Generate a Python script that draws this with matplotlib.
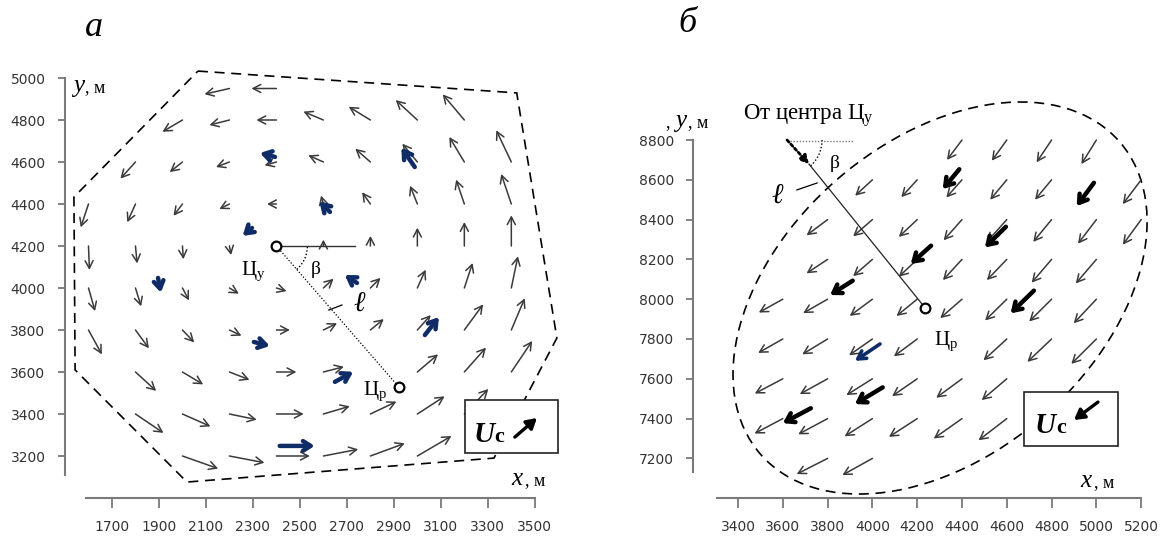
import math
import matplotlib
matplotlib.use('Agg')
import matplotlib.pyplot as plt
from matplotlib.patches import FancyArrowPatch, Rectangle, Ellipse, Arc, Polygon
from matplotlib.transforms import Affine2D

plt.rcParams['font.family'] = ['DejaVu Sans']
plt.rcParams['mathtext.fontset'] = 'custom'
plt.rcParams['mathtext.rm'] = 'Liberation Serif'
plt.rcParams['mathtext.it'] = 'Liberation Serif:italic'
plt.rcParams['mathtext.bf'] = 'Liberation Serif:bold'
SERIF = ['Liberation Serif', 'DejaVu Serif']

# ---------- panel a: modelled currents (tail x, tail y, u, v), m ----------
a_x = [2200, 2400,
       2000, 2200, 2400, 2600, 2800, 3000, 3200,
       1800, 2000, 2200, 2400, 2600, 2800, 3000, 3200, 3400,
       1600, 1800, 2000, 2200, 2400, 2600, 2800, 3000, 3200, 3400,
       1600, 1800, 2000, 2200, 2600, 2800, 3000, 3200, 3400,
       1600, 1800, 2000, 2200, 2400, 2600, 2800, 3000, 3200, 3400,
       1600, 1800, 2000, 2200, 2400, 2600, 2800, 3000, 3200, 3400,
       1800, 2000, 2200, 2400, 2600, 3000, 3200, 3400,
       1800, 2000, 2200, 2400, 2600, 2800, 3000, 3200,
       2000, 2200, 2400, 2600, 2800, 3000]
a_y = [4950] * 2 + [4800] * 7 + [4600] * 9 + [4400] * 10 + [4200] * 9 + \
      [4000] * 10 + [3800] * 10 + [3600] * 8 + [3400] * 8 + [3200] * 6
a_u = [-106, -106,
       -85, -85, -85, -85, -92, -92, -92,
       -64, -54, -57, -50, -64, -64, -64, -64, -64,
       -33, -35, -38, -43, -40, -10, -35, -31, -35, -43,
       4, 7, 4, 7, 0, 0, 0, 0, 0,
       28, 24, 28, 40, 43, 43, 43, 35, 35, 28,
       57, 57, 50, 51, 57, 58, 57, 57, 80, 57,
       88, 88, 85, 85, 87, 88, 92, 89,
       119, 119, 116, 116, 112, 111, 116, 102,
       152, 149, 142, 148, 146, 145]
a_v = [-27, 0,
       -56, -24, 0, 40, 63, 95, 122,
       -79, -48, -24, -16, 32, 63, 87, 119, 151,
       -111, -87, -56, -24, 0, 40, 56, 87, 116, 143,
       -114, -83, -63, -43, 30, 48, 87, 114, 146,
       -110, -87, -59, -27, -15, 44, 48, 87, 119, 151,
       -116, -87, -59, -27, 0, 32, 52, 71, 122, 151,
       -90, -59, -37, 0, 25, 84, 116, 148,
       -90, -59, -27, 0, 37, 59, 84, 119,
       -60, -32, 0, 32, 60, 95]

# panel a: measured currents
am_x = [2394, 2989, 2296, 2628, 1896, 2743, 2304, 3032, 2649, 2414]
am_y = [4624, 4576, 4286, 4362, 4048, 4024, 3743, 3776, 3553, 3248]
am_u = [-64, -57, -40, -45, 12, -52, 68, 60, 78, 149]
am_v = [19, 92, -38, 50, -70, 38, -19, 86, 48, 0]

# panel a: area boundary
a_bx = [2066, 3423, 3594, 3326, 2019, 1543, 1538]
a_by = [5033, 4929, 3762, 3190, 3076, 3610, 4433]

a_cy = (2400, 4200)   # centre Цу
a_cr = (2920, 3530)   # centre Цр
a_xticks = list(range(1700, 3501, 200))
a_yticks = list(range(3200, 5001, 200))

# ---------- panel б ----------
b_x = [4400, 4600, 4800, 5000,
       4000, 4200, 4400, 4600, 4800, 5200,
       3800, 4000, 4200, 4400, 4600, 4800, 5000, 5200,
       3800, 4000, 4200, 4400, 4600, 4800, 5000,
       3600, 3800, 4000, 4200, 4400, 4600, 4800, 5000,
       3600, 3800, 4000, 4200, 4600, 4800, 5000,
       3600, 3800, 4000, 4200, 4400, 4600,
       3600, 3800, 4000, 4200, 4400, 4600,
       3800, 4000]
b_y = [8800] * 4 + [8600] * 6 + [8400] * 8 + [8200] * 7 + [8000] * 8 + \
      [7800] * 7 + [7600] * 6 + [7400] * 6 + [7200] * 2
b_u = [-67, -67, -67, -67,
       -77, -71, -70, -74, -74, -82,
       -94, -86, -82, -82, -89, -82, -82, -82,
       -94, -86, -82, -85, -89, -89, -92,
       -107, -109, -101, -92, -97, -97, -100, -101,
       -110, -113, -104, -104, -104, -108, -112,
       -125, -124, -116, -112, -115, -112,
       -126, -131, -124, -126, -126, -126,
       -138, -134]
b_v = [-100, -104, -112, -121,
       -80, -87, -89, -100, -100, -122,
       -79, -84, -87, -104, -112, -112, -121, -126,
       -70, -84, -87, -104, -104, -117, -121,
       -67, -70, -84, -84, -95, -107, -112, -121,
       -70, -77, -82, -87, -107, -115, -125,
       -74, -77, -82, -87, -95, -107,
       -75, -79, -89, -92, -100, -109,
       -79, -84]

bm_x = [4388, 4989, 4596, 4262, 3912, 4721, 4046, 3725]
bm_y = [8653, 8585, 8364, 8269, 8093, 8043, 7557, 7452]
bm_u = [-74, -77, -94, -91, -101, -104, -124, -125]
bm_v = [-100, -117, -104, -92, -72, -114, -84, -75]
bb_x, bb_y, bb_u, bb_v = [4034], [7775], [-112], [-85]

b_cr = (4235, 7957)
b_start = (3619, 8800)
b_tip = (3717, 8679)
b_xticks = list(range(3400, 5201, 200))
b_yticks = list(range(7200, 8801, 200))

W, H = 11.66, 5.36
fig = plt.figure(figsize=(W, H), dpi=100)
ax1 = fig.add_axes([65 / 1166, 38 / 536, 498 / 1166, 432.6 / 536])
ax2 = fig.add_axes([693.2 / 1166, 37.8 / 536, 470.4 / 1166, 398 / 536])

GRAY = '#3a3a3a'
NAVY = '#0f2c66'


def setup(ax, xlim, ylim, xticks, yticks, xb, yb):
    ax.set_xlim(xlim)
    ax.set_ylim(ylim)
    ax.patch.set_visible(False)
    for s in ('top', 'right'):
        ax.spines[s].set_visible(False)
    for s in ('left', 'bottom'):
        ax.spines[s].set_color('#7a7a7a')
        ax.spines[s].set_linewidth(1.5)
    ax.spines['left'].set_bounds(*yb)
    ax.spines['bottom'].set_bounds(*xb)
    ax.set_xticks(xticks)
    ax.set_yticks(yticks)
    ax.tick_params(axis='y', length=5, width=1.3, color='#7a7a7a', pad=9,
                   labelsize=10, labelcolor='#333333')
    ax.tick_params(axis='x', length=7, width=1.3, color='#7a7a7a', pad=9,
                   labelsize=10, labelcolor='#333333')


def arrows(ax, xs, ys, us, vs, color, lw, hl, hw, style='->', z=3, ls='-'):
    for x, y, u, v in zip(xs, ys, us, vs):
        ax.add_patch(FancyArrowPatch(
            (x, y), (x + u, y + v),
            arrowstyle=f'{style},head_length={hl},head_width={hw}',
            color=color, lw=lw, ls=ls, shrinkA=0, shrinkB=0, mutation_scale=1,
            zorder=z, clip_on=False))


def px_scale(ax):
    pos = ax.get_position()
    x0, x1 = ax.get_xlim()
    y0, y1 = ax.get_ylim()
    return pos.width * W * 100 / (x1 - x0), pos.height * H * 100 / (y1 - y0)


# ===== panel a =====
setup(ax1, (1500, 3620), (3000, 5060), a_xticks, a_yticks, (1590, 3500), (3110, 5000))
sx, sy = px_scale(ax1)
tr1 = Affine2D().scale(1 / sx, 1 / sy) + ax1.transData

ax1.add_patch(Polygon(list(zip(a_bx, a_by)), closed=True, fill=False,
                      ec='black', lw=1.2, ls=(0, (6, 4)), zorder=2))
arrows(ax1, a_x, a_y, a_u, a_v, GRAY, 1.1, 5.5, 2.9)
arrows(ax1, am_x, am_y, am_u, am_v, NAVY, 3.2, 5.5, 3.5, z=4)

ax1.plot([a_cy[0], 2734], [a_cy[1], a_cy[1]], color='#333333', lw=1, zorder=3)
ax1.plot([a_cy[0], a_cr[0]], [a_cy[1], a_cr[1]], color='black', lw=0.9,
         ls=(0, (1, 1.5)), zorder=3)
ang = math.degrees(math.atan2((a_cr[1] - a_cy[1]) * sy, (a_cr[0] - a_cy[0]) * sx))
ax1.add_patch(Arc((a_cy[0] * sx, a_cy[1] * sy), 62, 62, theta1=ang, theta2=0,
                  transform=tr1, ls=(0, (1, 1.5)), lw=1, color='black'))
for c in (a_cy, a_cr):
    ax1.plot(*c, 'o', ms=7, mfc='white', mec='black', mew=1.6, zorder=6)
ax1.plot([2623, 2679], [3895, 3919], color='black', lw=0.9)

ax1.text(2300, 4081, 'Ц$_{\\mathrm{у}}$', family=SERIF, size=15, ha='center', va='center')
ax1.text(2819, 3510, 'Ц$_{\\mathrm{р}}$', family=SERIF, size=15, ha='center', va='center')
ax1.text(2568, 4090, 'β', family=SERIF, size=14, ha='center', va='center')
ax1.text(2751, 3924, 'ℓ', family=SERIF, style='italic', size=20, ha='center', va='center')

ax1.add_patch(Rectangle((3202, 3214), 396, 253, fc='white', ec='#222222', lw=1.2, zorder=7))
ax1.text(3283, 3267, 'U', family=SERIF, style='italic', weight='bold', size=21,
         ha='center', va='baseline', zorder=8)
ax1.text(3347, 3267, 'c', family=SERIF, weight='bold', size=16,
         ha='center', va='baseline', zorder=8)
arrows(ax1, [3415], [3290], [94], [91], 'black', 2.4, 6, 3.5, style='-|>', z=8)

ax1.text(1534, 4933, 'y', family=SERIF, style='italic', size=18, va='baseline')
ax1.text(1584, 4933, ', м', family=SERIF, size=13, va='baseline')
ax1.text(3402, 3062, 'x', family=SERIF, style='italic', size=18, va='baseline')
ax1.text(3458, 3062, ', м', family=SERIF, size=13, va='baseline')

# ===== panel б =====
setup(ax2, (3200, 5300), (7000, 9000), b_xticks, b_yticks, (3305, 5200), (7130, 8800))
sx2, sy2 = px_scale(ax2)
tr2 = Affine2D().scale(1 / sx2, 1 / sy2) + ax2.transData

ax2.add_patch(Ellipse((4302 * sx2, 8006 * sy2), 476, 314, angle=41, transform=tr2,
                      fill=False, ec='black', lw=1.2, ls=(0, (6, 4)), zorder=2))
arrows(ax2, b_x, b_y, b_u, b_v, GRAY, 1.1, 5.5, 2.9)
arrows(ax2, bm_x, bm_y, bm_u, bm_v, 'black', 3.2, 5.5, 3.6, z=4)
arrows(ax2, bb_x, bb_y, bb_u, bb_v, NAVY, 2.6, 5.5, 3.2, z=4)

ax2.plot([3632, 3913], [8795, 8795], color='#777777', lw=1, ls=(0, (1, 1.2)))
arrows(ax2, [b_start[0]], [b_start[1]], [b_tip[0] - b_start[0]], [b_tip[1] - b_start[1]],
       'black', 2.0, 5, 2.6, style='-|>', z=4, ls=(0, (1, 1)))
ax2.plot([b_tip[0], b_cr[0]], [b_tip[1], b_cr[1]], color='#222222', lw=0.9, zorder=3)
ang2 = math.degrees(math.atan2((b_tip[1] - b_start[1]) * sy2, (b_tip[0] - b_start[0]) * sx2))
ax2.add_patch(Arc((b_start[0] * sx2, b_start[1] * sy2), 70, 70, theta1=ang2, theta2=0,
                  transform=tr2, ls=(0, (1, 1.5)), lw=1, color='black'))
ax2.plot(*b_cr, 'o', ms=7, mfc='white', mec='black', mew=1.6, zorder=6)
ax2.plot([3663, 3753], [8549, 8584], color='black', lw=0.9)

ax2.text(4329, 7790, 'Ц$_{\\mathrm{р}}$', family=SERIF, size=15, ha='center', va='center')
ax2.text(3833, 8684, 'β', family=SERIF, size=14, ha='center', va='center')
ax2.text(3574, 8519, 'ℓ', family=SERIF, style='italic', size=20, ha='center', va='center')
ax2.text(3422, 8900, 'От центра Ц$_{\\mathrm{у}}$', family=SERIF, size=16.5, va='baseline')

ax2.add_patch(Rectangle((4677, 7262), 419, 272, fc='white', ec='#222222', lw=1.2, zorder=7))
ax2.text(4771, 7328, 'U', family=SERIF, style='italic', weight='bold', size=21,
         ha='center', va='baseline', zorder=8)
ax2.text(4842, 7328, 'c', family=SERIF, weight='bold', size=16,
         ha='center', va='baseline', zorder=8)
arrows(ax2, [5007], [7483], [-107], [-90], 'black', 2.4, 6, 3.5, style='-|>', z=8)

ax2.text(3074, 8865, ',', family=SERIF, size=13, va='baseline')
ax2.text(3119, 8865, 'y', family=SERIF, style='italic', size=18, va='baseline')
ax2.text(3178, 8865, ', м', family=SERIF, size=13, va='baseline')
ax2.text(4927, 7056, 'x', family=SERIF, style='italic', size=18, va='baseline')
ax2.text(4988, 7056, ', м', family=SERIF, size=13, va='baseline')

fig.text(94 / 1166, 1 - 28 / 536, 'а', family=SERIF, style='italic', size=26,
         ha='center', va='center')
fig.text(687 / 1166, 1 - 23 / 536, 'б', family=SERIF, style='italic', size=26,
         ha='center', va='center')

fig.savefig('out.png', dpi=100)
